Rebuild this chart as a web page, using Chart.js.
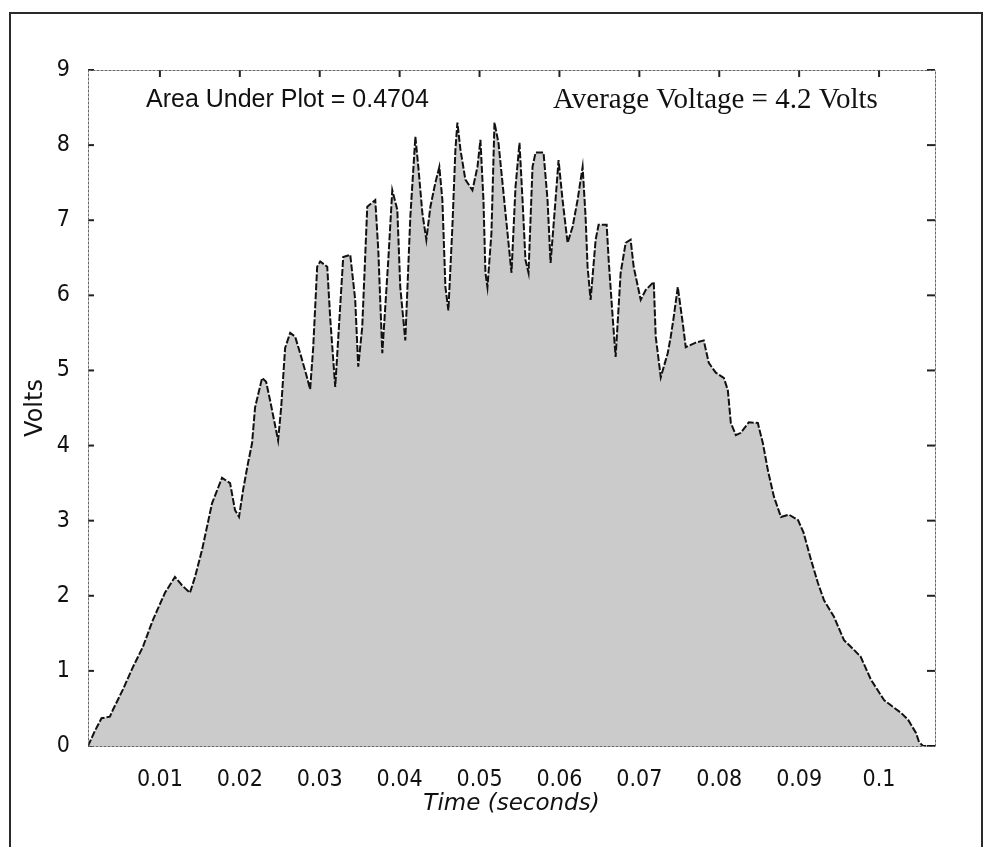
<!DOCTYPE html>
<html>
<head>
<meta charset="utf-8">
<script src="https://cdn.jsdelivr.net/npm/chart.js@4"></script>
<style>
  html, body { margin: 0; padding: 0; background: #fff; }
  #wrap { position: relative; width: 987px; height: 847px; }
  #frame { position: absolute; left: 9px; top: 12px; width: 974px; height: 860px;
           border: 2px solid #2a2a2a; box-sizing: border-box; pointer-events: none; }
  canvas { position: absolute; left: 0; top: 0; }
</style>
</head>
<body>
<div id="wrap">
  <canvas id="voltPlot" width="987" height="847"></canvas>
  <div id="frame"></div>
</div>
<script>
// time of each sample (seconds) and voltage
const timeSec = [
  0.0010, 0.00186, 0.00269, 0.00374, 0.00411, 0.00536, 0.00662, 0.00787, 0.00913, 0.01063,
  0.01188, 0.01276, 0.01376, 0.01439, 0.01527, 0.01652, 0.01777, 0.01878, 0.0194, 0.0199,
  0.02041, 0.02103, 0.02153, 0.02191, 0.02279, 0.02329, 0.02379, 0.02479, 0.02517, 0.02567,
  0.0263, 0.02692, 0.02755, 0.0283, 0.0288, 0.02918, 0.02968, 0.03006, 0.03094, 0.03131,
  0.03194, 0.03294, 0.03382, 0.03444, 0.03482, 0.03532, 0.03595, 0.03695, 0.03733, 0.03783,
  0.03858, 0.03908, 0.03971, 0.04008, 0.04071, 0.04134, 0.04197, 0.04234, 0.04284, 0.04334,
  0.04385, 0.04447, 0.04497, 0.04535, 0.04573, 0.0461, 0.0466, 0.04698, 0.04723, 0.04761,
  0.04823, 0.04911, 0.04974, 0.05011, 0.05049, 0.05074, 0.05099, 0.05149, 0.05187, 0.05237,
  0.05287, 0.0535, 0.054, 0.0545, 0.055, 0.05538, 0.05575, 0.05613, 0.05663, 0.05701,
  0.05801, 0.05851, 0.05889, 0.05951, 0.05989, 0.06039, 0.06102, 0.06164, 0.06227, 0.0629,
  0.06327, 0.06352, 0.0639, 0.06453, 0.0649, 0.06591, 0.06616, 0.06666, 0.06703, 0.06766,
  0.06829, 0.06891, 0.06929, 0.07017, 0.07079, 0.0718, 0.07205, 0.07268, 0.07355, 0.07393,
  0.0743, 0.07481, 0.07543, 0.07581, 0.07706, 0.07806, 0.07869, 0.07957, 0.08057, 0.08107,
  0.08145, 0.08208, 0.0827, 0.0837, 0.08483, 0.08546, 0.08609, 0.08684, 0.08772, 0.08872,
  0.08985, 0.09055, 0.09148, 0.09235, 0.09311, 0.09436, 0.09561, 0.09686, 0.09769, 0.099,
  0.10063, 0.10276, 0.10363, 0.10464, 0.10501, 0.10552, 0.10714
];
const volts = [
  0, 0.2, 0.37, 0.39, 0.48, 0.75, 1.05, 1.32, 1.68, 2.04,
  2.25, 2.14, 2.04, 2.25, 2.61, 3.23, 3.57, 3.5, 3.14, 3.05,
  3.41, 3.77, 4.03, 4.51, 4.9, 4.85, 4.6, 4.07, 4.5, 5.3,
  5.5, 5.45, 5.23, 4.95, 4.75, 5.3, 6.38, 6.45, 6.38, 5.7,
  4.78, 6.51, 6.54, 5.94, 5.05, 5.58, 7.18, 7.27, 6.6, 5.23,
  6.47, 7.4, 7.14, 6.11, 5.4, 7.05, 8.11, 7.71, 7.1, 6.74,
  7.18, 7.5, 7.71, 7.27, 6.11, 5.8, 6.91, 7.94, 8.3, 7.94,
  7.54, 7.4, 7.71, 8.07, 7.27, 6.3, 6.11, 6.83, 8.3, 8.03,
  7.5, 6.83, 6.3, 7.44, 8.03, 7.27, 6.47, 6.3, 7.71, 7.9,
  7.9, 7.27, 6.43, 7.27, 7.8, 7.27, 6.7, 6.91, 7.27, 7.71,
  7.05, 6.38, 5.94, 6.74, 6.94, 6.94, 6.47, 5.71, 5.18, 6.3,
  6.7, 6.74, 6.38, 5.94, 6.07, 6.18, 5.45, 4.91, 5.23, 5.45,
  5.71, 6.11, 5.63, 5.31, 5.37, 5.4, 5.1, 4.97, 4.9, 4.74,
  4.3, 4.14, 4.17, 4.31, 4.3, 4.03, 3.67, 3.32, 3.05, 3.08,
  3.01, 2.84, 2.48, 2.17, 1.94, 1.72, 1.41, 1.28, 1.19, 0.88,
  0.61, 0.44, 0.35, 0.17, 0.05, 0, 0
];

const xTicks = [0.01, 0.02, 0.03, 0.04, 0.05, 0.06, 0.07, 0.08, 0.09, 0.1];
const xTickLabels = ['0.01', '0.02', '0.03', '0.04', '0.05', '0.06', '0.07', '0.08', '0.09', '0.1'];
const yTicks = [0, 1, 2, 3, 4, 5, 6, 7, 8, 9];

const areaText = 'Area Under Plot = 0.4704';
const avgText = 'Average Voltage = 4.2 Volts';

const points = timeSec.map((t, i) => ({ x: t, y: volts[i] }));

function seg(ctx, x1, y1, x2, y2) {
  ctx.beginPath();
  ctx.moveTo(x1, y1);
  ctx.lineTo(x2, y2);
  ctx.stroke();
}

// MATLAB style box: inward ticks under the fill, frame and notes on top
const boxPlugin = {
  id: 'boxPlugin',
  beforeDatasetsDraw(chart) {
    const { ctx, chartArea: a, scales: { x, y } } = chart;
    ctx.save();
    ctx.strokeStyle = '#222';
    ctx.lineWidth = 2;
    xTicks.forEach(v => {
      const px = x.getPixelForValue(v);
      seg(ctx, px, a.top, px, a.top + 7);
      seg(ctx, px, a.bottom, px, a.bottom - 7);
    });
    yTicks.forEach(v => {
      const py = y.getPixelForValue(v);
      seg(ctx, a.left, py, a.left + 6, py);
      seg(ctx, a.right, py, a.right - 8, py);
    });
    ctx.restore();
  },
  afterDatasetsDraw(chart) {
    const { ctx, chartArea: a } = chart;
    ctx.save();
    ctx.strokeStyle = '#666';
    ctx.lineWidth = 1;
    ctx.setLineDash([3, 1]);
    ctx.strokeRect(a.left + 0.5, a.top + 0.5, a.right - a.left, a.bottom - a.top);
    ctx.setLineDash([]);
    ctx.fillStyle = '#111';
    ctx.textBaseline = 'middle';
    ctx.font = '25px "Liberation Sans"';
    ctx.fillText(areaText, 146, 100);
    ctx.font = '29px "Liberation Serif"';
    ctx.fillText(avgText, 553, 100);
    ctx.restore();
  }
};

new Chart(document.getElementById('voltPlot').getContext('2d'), {
  type: 'line',
  data: {
    datasets: [{
      label: 'Volts',
      data: points,
      borderColor: '#111',
      borderWidth: 2,
      borderDash: [7, 2],
      backgroundColor: '#cbcbcb',
      fill: 'origin',
      pointRadius: 0,
      tension: 0
    }]
  },
  options: {
    responsive: false,
    animation: false,
    layout: { padding: { top: 70, right: 52, bottom: 20, left: 0 } },
    plugins: { legend: { display: false }, tooltip: { enabled: false } },
    scales: {
      x: {
        type: 'linear',
        min: 0.001,
        max: 0.107,
        grid: { display: false },
        border: { display: false },
        afterBuildTicks: s => { s.ticks = xTicks.map(v => ({ value: v })); },
        afterFit: s => { s.height = 81; },
        ticks: {
          autoSkip: false,
          maxRotation: 0,
          padding: 12,
          color: '#111',
          font: { family: 'DejaVu Sans Condensed', size: 23 },
          callback: (v, i) => xTickLabels[i]
        },
        title: {
          display: true,
          text: 'Time (seconds)',
          color: '#111',
          font: { family: 'DejaVu Sans', size: 23, style: 'italic' },
          padding: { top: 0, bottom: 9 }
        }
      },
      y: {
        min: 0,
        max: 9,
        grid: { display: false },
        border: { display: false },
        afterBuildTicks: s => { s.ticks = yTicks.map(v => ({ value: v })); },
        afterFit: s => { s.width = 88; },
        ticks: {
          padding: 10,
          color: '#111',
          font: { family: 'DejaVu Sans Condensed', size: 23 }
        },
        title: {
          display: true,
          text: 'Volts',
          color: '#111',
          font: { family: 'DejaVu Sans', size: 24 },
          padding: { top: 21, bottom: 0 }
        }
      }
    }
  },
  plugins: [boxPlugin]
});
</script>
</body>
</html>
